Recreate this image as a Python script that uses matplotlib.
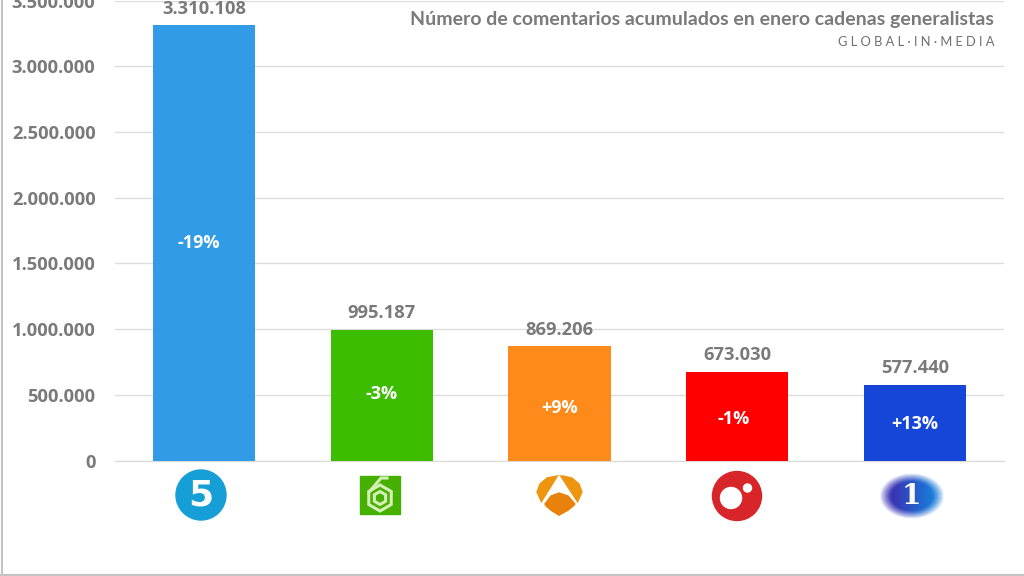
import matplotlib
matplotlib.use("Agg")
import matplotlib.pyplot as plt
import numpy as np
from matplotlib.patches import Circle, Ellipse, Polygon, Rectangle, RegularPolygon

channels = ["Telecinco", "La Sexta", "Antena 3", "Cuatro", "La 1"]
comments = [3310108, 995187, 869206, 673030, 577440]
value_labels = ["3.310.108", "995.187", "869.206", "673.030", "577.440"]
changes = ["-19%", "-3%", "+9%", "-1%", "+13%"]
bar_colors = ["#319be6", "#3dbd00", "#ff8a1c", "#ff0000", "#1546d8"]
y_ticks = [0, 500000, 1000000, 1500000, 2000000, 2500000, 3000000, 3500000]
y_labels = ["0", "500.000", "1.000.000", "1.500.000", "2.000.000",
            "2.500.000", "3.000.000", "3.500.000"]

GREY = "#7a7a7a"
W, H = 1024, 576
# the percent labels are not quite centred in the original
change_nudge = [(-3.5, 0), (0, 0.5), (0, -3.5), (-3, -2), (0, -1)]

plt.rcParams["font.family"] = ["Open Sans", "DejaVu Sans"]

fig = plt.figure(figsize=(W / 100, H / 100), dpi=100, facecolor="white")
ax = fig.add_axes([115 / W, 1 - 460.5 / H, 889 / W, 460 / H])

x = list(range(len(channels)))
ax.bar(x, comments, width=0.575, color=bar_colors, zorder=3)
ax.set_xlim(-0.5, 4.5)
ax.set_ylim(0, 3495000)
ax.set_yticks(y_ticks)
ax.set_yticklabels(y_labels, fontsize=13.2, fontweight="bold", color=GREY)
ax.set_xticks([])
ax.tick_params(axis="y", length=0, pad=14)
ax.grid(axis="y", color="#dddddd", linewidth=1, zorder=0)
for side in ["top", "right", "left"]:
    ax.spines[side].set_visible(False)
ax.spines["bottom"].set_color("#d9d9d9")

for i, value in enumerate(comments):
    ax.annotate(value_labels[i], (i, value), xytext=(0, 5.5), textcoords="offset points",
                ha="center", va="bottom", fontsize=13.2, fontweight="bold",
                color=GREY, zorder=4)
    ax.annotate(changes[i], (i, value / 2), xytext=change_nudge[i], textcoords="offset points",
                ha="center", va="center", fontsize=13, fontweight="bold",
                color="white", zorder=4)

# overlay in pixel coordinates for frame, title and logos
ov = fig.add_axes([0, 0, 1, 1], facecolor="none")
ov.axis("off")

ov.plot([1.5, 1.5], [0, 575], color="#c4c4c4", lw=1.5)
ov.plot([0, W], [575, 575], color="#c4c4c4", lw=1.5)

ov.text(994, 19, "Número de comentarios acumulados en enero cadenas generalistas",
        ha="right", va="center", fontsize=14, fontweight="bold", color=GREY,
        family=["Lato", "DejaVu Sans"])
ov.text(995, 42, "G L O B A L · I N · M E D I A", ha="right", va="center",
        fontsize=9.3, color="#6f6f6f", family=["Lato", "DejaVu Sans"])

# Telecinco
ov.add_patch(Circle((201, 495), 25, color="#159fd6"))
ov.text(201, 495, "5", ha="center", va="center", fontsize=26, fontweight="bold",
        color="white", family=["DejaVu Sans"])
ov.add_patch(Ellipse((197, 499), 9, 5, color="#159fd6"))

# La Sexta
ov.add_patch(Rectangle((360, 476), 40, 38, color="#45b000"))
ov.add_patch(RegularPolygon((380, 498), 6, radius=13, facecolor="none",
                            edgecolor="#d4f0b8", lw=2.2))
ov.add_patch(RegularPolygon((380, 498), 6, radius=6.5, facecolor="none",
                            edgecolor="#d4f0b8", lw=2.2))
ov.plot([370, 381, 387], [491, 478, 478], color="#d4f0b8", lw=2.2)

# Antena 3
ov.add_patch(Polygon([(557, 476), (547, 478), (540, 484), (537, 492), (542, 503), (551, 510),
                      (559, 515), (568, 510), (577, 503), (582, 492), (579, 484), (572, 478),
                      (563, 476)], closed=True, color="#ee9510"))
ov.add_patch(Polygon([(559, 476), (541, 505), (578, 505)], closed=True, color="white"))
ov.add_patch(Polygon([(545, 504), (551, 496), (559, 493), (568, 496), (575, 504),
                      (568, 510), (559, 515), (551, 510)], closed=True, color="#e8820c"))

# Cuatro
ov.add_patch(Circle((737, 496), 24.5, color="#d8252a"))
ov.add_patch(Circle((731, 498), 10.5, color="white"))
ov.add_patch(Circle((747.5, 488), 4, color="white"))

# La 1, blurred blob behind the digit
gx, gy = np.meshgrid(np.linspace(-1.25, 1.25, 80), np.linspace(-1.25, 1.25, 60))
blob = np.zeros((60, 80, 4))
mix = np.clip((gx + 0.6) / 1.2, 0, 1)
blob[..., 0] = 0.23 * (1 - mix) + 0.10 * mix
blob[..., 1] = 0.20 * (1 - mix) + 0.48 * mix
blob[..., 2] = 0.70 * (1 - mix) + 0.85 * mix
blob[..., 3] = np.clip(1.7 * (1 - gx ** 2 - gy ** 2), 0, 1)
ov.imshow(blob, extent=(871, 953, 525, 467), aspect="auto", zorder=2, interpolation="bilinear")
ov.text(911.5, 496, "1", ha="center", va="center", fontsize=20, fontweight="bold",
        color="white", family=["DejaVu Serif"], zorder=3)

ov.set_xlim(0, W)
ov.set_ylim(H, 0)

fig.savefig("out.png", dpi=100)
